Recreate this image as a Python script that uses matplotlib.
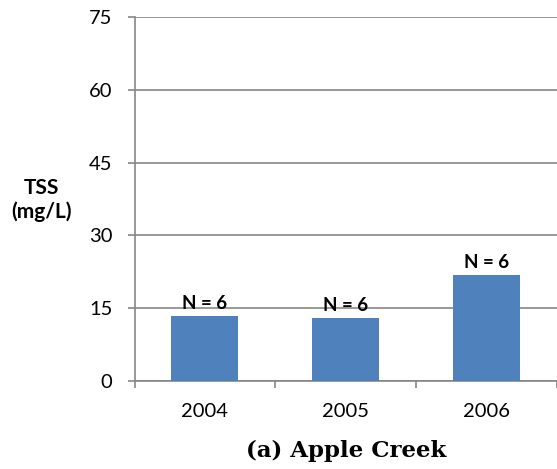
import matplotlib
matplotlib.use("Agg")
import matplotlib.pyplot as plt

YEARS = ["2004", "2005", "2006"]
TSS = [13.4, 12.9, 21.9]
N_LABELS = ["N = 6", "N = 6", "N = 6"]
Y_TICKS = [0, 15, 30, 45, 60, 75]

BAR_COLOR = "#4F81BD"
GRID_COLOR = "#868686"

plt.rcParams.update({
    "font.family": ["Lato", "DejaVu Sans"],
    "font.size": 12,
})

fig = plt.figure(figsize=(5.57, 4.69), dpi=100)
ax = fig.add_axes([0.2415, 0.1876, 0.7585, 0.7762])

x = list(range(len(YEARS)))
bars = ax.bar(x, TSS, width=0.475, color=BAR_COLOR, zorder=3)

# N labels sit just above each bar
for bar, lab in zip(bars, N_LABELS):
    ax.annotate(lab, (bar.get_x() + bar.get_width() / 2, bar.get_height()),
                xytext=(0, 3), textcoords="offset points",
                ha="center", va="bottom", fontsize=13.5, fontweight="bold")

ax.set_xlim(-0.5, 2.5)
ax.set_ylim(0, 75)
ax.set_yticks(Y_TICKS)
ax.set_xticks(x)
ax.set_xticklabels(YEARS)
ax.set_xticks([-0.5, 0.5, 1.5, 2.5], minor=True)

ax.grid(axis="y", color=GRID_COLOR, linewidth=1.2, zorder=0)
for side in ["top", "right"]:
    ax.spines[side].set_visible(False)
for side in ["left", "bottom"]:
    ax.spines[side].set_color(GRID_COLOR)
    ax.spines[side].set_linewidth(1.2)

ax.tick_params(axis="y", length=5, width=1.2, color=GRID_COLOR, pad=11, labelsize=14.5)
ax.tick_params(axis="x", which="major", length=0, pad=16, labelsize=14.5)
ax.tick_params(axis="x", which="minor", length=5, width=1.2, color=GRID_COLOR)

fig.text(0.075, 0.5736, "TSS\n(mg/L)", ha="center", va="center",
         fontsize=15, fontweight="bold", linespacing=1.25)

ax.set_xlabel("(a) Apple Creek", fontsize=16.5, fontweight="bold",
              family=["DejaVu Serif"], labelpad=14)

plt.savefig("out.png", dpi=100)
plt.close()
